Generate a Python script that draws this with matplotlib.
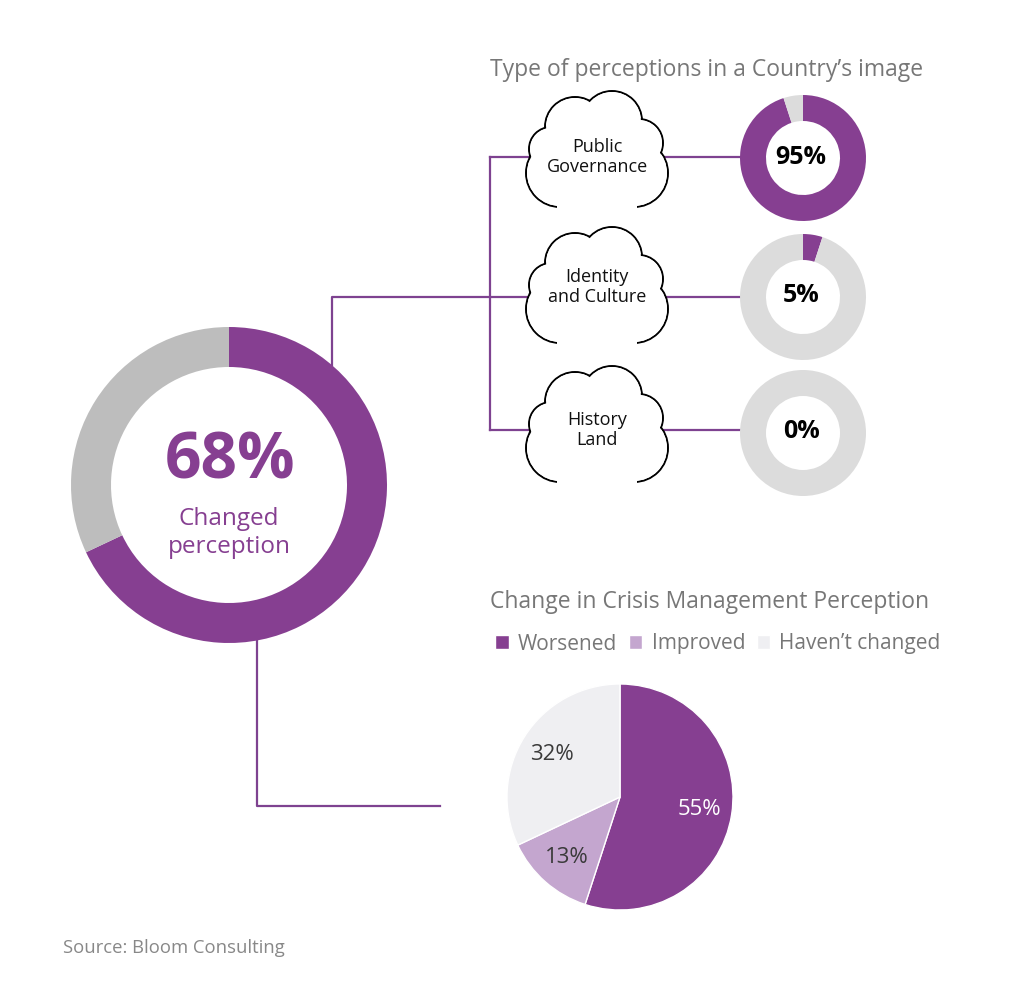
import numpy as np
import matplotlib.pyplot as plt
from matplotlib.patches import Circle, Rectangle

plt.rcParams['font.family'] = ['Open Sans', 'DejaVu Sans']

# data
changed_share = [68, 32]
perception_types = ['Public\nGovernance', 'Identity\nand Culture', 'History\nLand']
perception_values = [95, 5, 0]
crisis_labels = ['Worsened', 'Improved', 'Haven\u2019t changed']
crisis_values = [55, 13, 32]

PURPLE = '#863f91'
LINE = '#7e4290'
GRAY = '#bdbdbd'
LIGHTGRAY = '#dcdcdc'
TXT = '#777777'
H = 990

fig = plt.figure(figsize=(10.24, 9.9), dpi=100)
ax = fig.add_axes([0, 0, 1, 1])


def Y(y):
    # pixel row (from top) -> data y
    return H - y


# connector lines
lw = 1.6
ax.plot([332, 332, 540], [Y(365), Y(297), Y(297)], color=LINE, lw=lw, zorder=1)
ax.plot([490, 490], [Y(157), Y(430)], color=LINE, lw=lw, zorder=1)
ax.plot([490, 540], [Y(157), Y(157)], color=LINE, lw=lw, zorder=1)
ax.plot([490, 540], [Y(430), Y(430)], color=LINE, lw=lw, zorder=1)
for yy in [157, 297, 430]:
    ax.plot([660, 745], [Y(yy), Y(yy)], color=LINE, lw=lw, zorder=1)
ax.plot([257, 257, 440], [Y(640), Y(806), Y(806)], color=LINE, lw=lw, zorder=1)

# big donut
ax.pie(changed_share, center=(229, Y(485)), radius=158, startangle=90,
       counterclock=False, colors=[PURPLE, GRAY],
       wedgeprops=dict(width=40, linewidth=0), frame=True)
ax.text(230, Y(462), f'{changed_share[0]}%', ha='center', va='center',
        fontsize=46, fontweight='bold', color=PURPLE)
ax.text(229, Y(533), 'Changed\nperception', ha='center', va='center',
        fontsize=17.5, color=PURPLE, linespacing=1.25)

# clouds
lobes = [(-37, -24, 34), (37, -24, 34), (-22, 22, 30), (15, 28, 30),
         (42, 6, 24), (-46, 0, 22)]


def cloud(cx, cy):
    for dx, dy, r in lobes:
        ax.add_patch(Circle((cx + dx, cy + dy), r, fc='white', ec='black',
                            lw=1.4, zorder=3))
    for dx, dy, r in lobes:
        ax.add_patch(Circle((cx + dx, cy + dy), r - 1.1, fc='white',
                            ec='none', zorder=4))
    ax.add_patch(Circle((cx, cy - 10), 42, fc='white', ec='none', zorder=4))
    ax.add_patch(Rectangle((cx - 40, cy - 64), 80, 24, fc='white',
                           ec='none', zorder=5))


cloud_mid = [149, 285, 424]
text_y = [157, 287, 430]
donut_y = [158, 297, 433]
for lab, val, cm, ty, dy in zip(perception_types, perception_values,
                                cloud_mid, text_y, donut_y):
    cloud(597, Y(cm))
    ax.text(597, Y(ty), lab, ha='center', va='center', fontsize=13,
            color='#111111', zorder=6, linespacing=1.2)
    ax.pie([val, 100 - val], center=(803, Y(dy)), radius=63, startangle=90,
           counterclock=False, colors=[PURPLE, LIGHTGRAY],
           wedgeprops=dict(width=26, linewidth=0), frame=True)
    ax.text(801, Y(dy - 1), f'{val}%', ha='center', va='center', fontsize=18,
            fontweight='bold', color='black', zorder=6)

ax.text(490, Y(70), 'Type of perceptions in a Country\u2019s image', ha='left',
        va='center', fontsize=16.5, color=TXT)

# crisis pie
wedges, _, autotexts = ax.pie(crisis_values, center=(620, Y(797)), radius=113,
                              startangle=90, counterclock=False,
                              colors=[PURPLE, '#c4a6cf', '#efeff2'],
                              autopct='%d%%', pctdistance=0.71,
                              wedgeprops=dict(linewidth=1, edgecolor='white'),
                              textprops=dict(fontsize=16, color='#3a3a3a'),
                              frame=True)
autotexts[0].set_color('white')

ax.text(490, Y(602), 'Change in Crisis Management Perception', ha='left',
        va='center', fontsize=16.5, color=TXT)
leg = ax.legend(wedges, crisis_labels, loc='center left', ncol=3,
                bbox_to_anchor=(495 / 1024, 1 - 644 / H), frameon=False,
                fontsize=15, labelcolor=TXT, handlelength=0.65, handleheight=0.65,
                handletextpad=0.45, columnspacing=0.55, borderaxespad=0,
                borderpad=0)

ax.text(63, Y(948), 'Source: Bloom Consulting', ha='left', va='center',
        fontsize=13.3, color='#888888')

ax.set_xlim(0, 1024)
ax.set_ylim(0, H)
ax.set_aspect('auto')
ax.axis('off')

plt.savefig('out.png', dpi=100, facecolor='white')
